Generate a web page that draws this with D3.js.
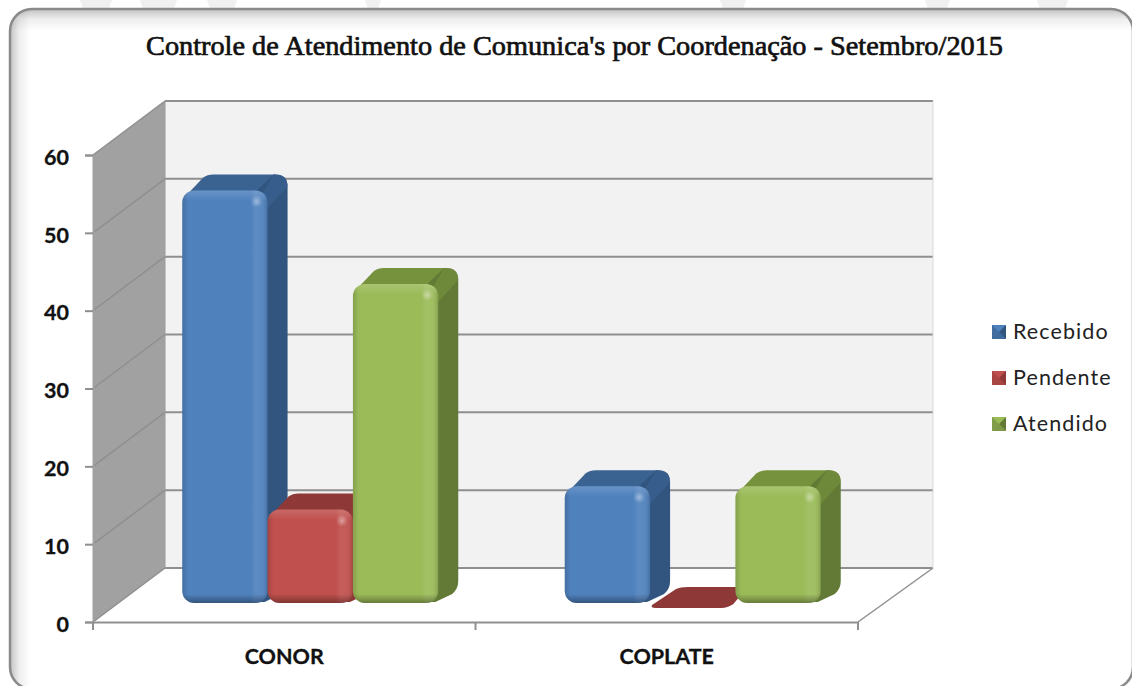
<!DOCTYPE html>
<html>
<head>
<meta charset="utf-8">
<script src="https://cdnjs.cloudflare.com/ajax/libs/d3/7.8.5/d3.min.js"></script>
<style>
  html, body { margin: 0; padding: 0; background: #fff; }
  svg { display: block; }
  .title { font-family: "Liberation Serif", serif; font-size: 28.3px; fill: #111; stroke: #111; stroke-width: .7px; }
  .tick-label { font-family: Lato, sans-serif; font-weight: 700; font-size: 21.5px; fill: #111; stroke: #111; stroke-width: .3px; }
  .legend-label { font-family: Lato, sans-serif; font-size: 21.5px; fill: #222; letter-spacing: 1.1px; }
</style>
</head>
<body>
<div id="chart"></div>
<script>
var WIDTH = 1132,
    HEIGHT = 686;

// data
var titleText = "Controle de Atendimento de Comunica's por Coordenação - Setembro/2015";
var categories = ['CONOR', 'COPLATE'];
var seriesNames = ['Recebido', 'Pendente', 'Atendido'];
var recebido = [53, 15];
var pendente = [12, 0];
var atendido = [41, 15];
var yTicks = [0, 10, 20, 30, 40, 50, 60];

var seriesValues = [recebido, pendente, atendido];
var palette = {
  Recebido: {front: '#4f81bd', side: '#31557f', top: '#3b6392', hi: '#8fc1f5'},
  Pendente: {front: '#c0504d', side: '#8e3937', top: '#8e3937', hi: '#f58f8c'},
  Atendido: {front: '#9bbb59', side: '#627a36', top: '#76923c', hi: '#d4f08e'}
};

// the floor is drawn in oblique projection
var WALL_DX = 72, WALL_DY = -54;    // front plane to back wall
var WALL_EXTRA = 3;                 // back wall runs a little past the floor's right corner
var BAR_DX = 26, BAR_DY = -19;      // front plane to bar front
var SIDE_DX = 20, SIDE_DY = -16;    // bar front to bar back
var BAR_R = 12;

var x0 = d3.scaleBand().domain(categories).range([93, 858]);
var x1 = d3.scaleBand().domain(seriesNames).range([-128, 128]);
var y = d3.scaleLinear().domain([0, 60]).range([622, 155]);

var svg = d3.select('#chart').append('svg')
    .attr('width', WIDTH)
    .attr('height', HEIGHT);
var defs = svg.append('defs');

function linear(id, horizontal, stops) {
  var g = defs.append('linearGradient').attr('id', id)
      .attr('x1', 0).attr('y1', 0)
      .attr('x2', horizontal ? 1 : 0).attr('y2', horizontal ? 0 : 1);
  stops.forEach(s => {
    g.append('stop').attr('offset', s[0]).attr('stop-color', s[1]).attr('stop-opacity', s[2]);
  });
}

linear('shadeLeft', true, [[0, '#000', .24], [.45, '#000', .07], [1, '#000', 0]]);
linear('shadeTop', false, [[0, '#000', .24], [.45, '#000', .07], [1, '#000', 0]]);
// across every bar: dark left rim, light strip before the right rim
linear('bevelX', true, [[0, '#000', .14], [.07, '#000', 0], [.8, '#fff', 0], [.86, '#fff', .08],
                        [.93, '#fff', .06], [1, '#000', .14]]);
defs.append('radialGradient').attr('id', 'spot')
    .selectAll('stop').data([[0, .4], [1, 0]]).enter().append('stop')
    .attr('offset', d => d[0]).attr('stop-color', '#fff').attr('stop-opacity', d => d[1]);
defs.append('clipPath').attr('id', 'frameClip').append('rect')
    .attr('x', 10).attr('y', 9).attr('width', 1123).attr('height', 680).attr('rx', 22);

// faint watermark behind the frame
var watermark = [[80, 112], [140, 177], [207, 237], [365, 381], [720, 746], [925, 950], [1037, 1068]];
svg.append('g').selectAll('path').data(watermark).enter().append('path')
    .attr('d', d => `M${d[0]},0H${d[1]}L${d[1] - 3},9H${d[0] + 3}Z`)
    .attr('fill', '#f0f0f0');

// frame
svg.append('rect').attr('x', 10).attr('y', 9).attr('width', 1123).attr('height', 680)
    .attr('rx', 22).attr('fill', '#fff');
var shade = svg.append('g').attr('clip-path', 'url(#frameClip)');
shade.append('rect').attr('x', 10).attr('y', 9).attr('width', 20).attr('height', 680).attr('fill', 'url(#shadeLeft)');
shade.append('rect').attr('x', 10).attr('y', 9).attr('width', 1123).attr('height', 22).attr('fill', 'url(#shadeTop)');
svg.append('rect').attr('x', 10).attr('y', 9).attr('width', 1123).attr('height', 680)
    .attr('rx', 22).attr('fill', 'none').attr('stroke', '#8a8a8a').attr('stroke-width', 2.5);

svg.append('text').attr('class', 'title')
    .attr('x', 574.5).attr('y', 55)
    .attr('text-anchor', 'middle')
    .text(titleText);

// walls and floor
var xl = x0.range()[0], xr = x0.range()[1];
var backL = xl + WALL_DX,
    backR = xr + WALL_DX + WALL_EXTRA,
    backY = v => y(v) + WALL_DY;
var GRID = '#8f8f8f';

svg.append('path')
    .attr('d', `M${xl},${y(60)}L${backL},${backY(60)}V${backY(0)}L${xl},${y(0)}Z`)
    .attr('fill', '#a1a1a1');
svg.append('rect')
    .attr('x', backL).attr('y', backY(60))
    .attr('width', backR - backL).attr('height', backY(0) - backY(60))
    .attr('fill', '#f2f2f2');

svg.append('g').selectAll('line').data(yTicks).enter().append('line')
    .attr('x1', backL).attr('x2', backR)
    .attr('y1', backY).attr('y2', backY)
    .attr('stroke', GRID).attr('stroke-width', 2);
svg.append('g').selectAll('line').data(yTicks).enter().append('line')
    .attr('x1', xl).attr('x2', backL)
    .attr('y1', y).attr('y2', backY)
    .attr('stroke', GRID).attr('stroke-width', 1.5);
svg.append('path')
    .attr('d', `M${xr},${y(0)}L${backR},${backY(0)}`)
    .attr('stroke', GRID).attr('stroke-width', 1.5).attr('fill', 'none');
svg.append('path')
    .attr('d', `M${backL},${backY(60)}V${backY(0)}`)
    .attr('stroke', '#9a9a9a').attr('fill', 'none');
svg.append('path')
    .attr('d', `M${backR},${backY(60)}V${backY(0)}`)
    .attr('stroke', '#d9d9d9').attr('fill', 'none');

// axes
var yAxis = svg.append('g')
    .attr('transform', `translate(${xl},0)`)
    .call(d3.axisLeft(y).tickValues(yTicks).tickSize(8).tickPadding(16).tickFormat(d3.format('d')));
var xAxis = svg.append('g')
    .attr('transform', `translate(0,${y(0)})`)
    .call(d3.axisBottom(x0).tickSize(0).tickPadding(27));
[yAxis, xAxis].forEach(a => {
  a.attr('font-size', null).attr('font-family', null);
  a.selectAll('text').attr('class', 'tick-label');
  a.selectAll('.tick line, .domain').attr('stroke', GRID).attr('stroke-width', 2);
});
yAxis.selectAll('text').attr('dy', '0.43em');
yAxis.select('.domain').attr('stroke', '#a1a1a1');
svg.append('g').selectAll('line').data(d3.range(categories.length + 1)).enter().append('line')
    .attr('x1', i => xl + i * x0.step()).attr('x2', i => xl + i * x0.step())
    .attr('y1', y(0)).attr('y2', y(0) + 8)
    .attr('stroke', GRID).attr('stroke-width', 2);

// bars: body (top + side) first, then the rounded front with its bevel
var bars = [];
seriesNames.forEach((name, s) => {
  categories.forEach((cat, c) => {
    bars.push({cat: cat, name: name, value: seriesValues[s][c], id: 'bar' + s + c});
  });
});
bars.sort((a, b) => d3.ascending(categories.indexOf(a.cat), categories.indexOf(b.cat)));

var barG = svg.append('g').selectAll('g').data(bars).enter().append('g');

barG.each(function(d) {
  var g = d3.select(this),
      w = x1.bandwidth(),
      left = x0(d.cat) + x0.bandwidth() / 2 + x1(d.name) + BAR_DX,
      right = left + w,
      bottom = y(0) + BAR_DY,
      top = y(d.value) + BAR_DY,
      h = bottom - top,
      col = palette[d.name],
      r = BAR_R;

  if (d.value === 0) {
    // empty bar lies flat on the floor
    g.append('path')
      .attr('d', `M${left + 2},${bottom + 2}L${left + SIDE_DX + 6},${bottom + SIDE_DY + 2}` +
                 `Q${left + SIDE_DX + 10},${bottom + SIDE_DY} ${left + SIDE_DX + 18},${bottom + SIDE_DY}` +
                 `H${right + SIDE_DX - 8}L${right - 2},${bottom + 1}Q${right - 8},${bottom + 5} ${right - 14},${bottom + 5}` +
                 `H${left + 6}Q${left},${bottom + 5} ${left + 2},${bottom + 2}Z`)
      .attr('fill', col.side);
    return;
  }

  // top face
  g.append('path')
    .attr('d', `M${left + 2},${top + 7}L${left + SIDE_DX + 1},${top + SIDE_DY + 3}` +
               `Q${left + SIDE_DX + 5},${top + SIDE_DY} ${left + SIDE_DX + 11},${top + SIDE_DY}` +
               `H${right + SIDE_DX - r}L${right},${top + r}H${left + r}Z`)
    .attr('fill', col.top);

  // side face
  g.append('path')
    .attr('d', `M${right - r},${top + 1}L${right + SIDE_DX - r - 2},${top + SIDE_DY}` +
               `H${right + SIDE_DX - r}Q${right + SIDE_DX},${top + SIDE_DY} ${right + SIDE_DX},${top + SIDE_DY + r}` +
               `V${bottom + SIDE_DY - 6}Q${right + SIDE_DX},${bottom + SIDE_DY + 2} ${right + SIDE_DX - 6},${bottom + SIDE_DY + 7}` +
               `L${right - 3},${bottom - 1}H${right - r}Z`)
    .attr('fill', col.side);
  // soft shoulder between top and side
  g.append('path')
    .attr('d', `M${right - 6},${top + 4}L${right + SIDE_DX - r - 2},${top + SIDE_DY}` +
               `H${right + SIDE_DX - r}Q${right + SIDE_DX},${top + SIDE_DY} ${right + SIDE_DX},${top + SIDE_DY + r}` +
               `L${right},${top + r + 6}Z`)
    .attr('fill', col.top).attr('opacity', .6);

  // front
  var frontRect = sel => sel.attr('x', left).attr('y', top).attr('width', w).attr('height', h).attr('rx', r);
  g.append('rect').call(frontRect).attr('fill', col.front);
  g.append('rect').call(frontRect).attr('fill', 'url(#bevelX)');

  // vertical bevel depends on bar height, so one gradient per bar
  linear(d.id, false, [[0, '#fff', .14], [7 / h, '#fff', .05], [10 / h, '#fff', 0],
                       [(h - 9) / h, '#000', 0], [1, '#000', .34]]);
  g.append('rect').call(frontRect).attr('fill', `url(#${d.id})`);

  g.append('circle')
    .attr('cx', right - 11).attr('cy', top + 11).attr('r', 6)
    .attr('fill', 'url(#spot)');
});

// legend
var legendY = d3.scalePoint().domain(seriesNames).range([332, 424]);
var SW = 14;
var legend = svg.append('g').selectAll('g').data(seriesNames).enter().append('g')
    .attr('transform', d => `translate(992,${legendY(d)})`);
legend.append('rect')
    .attr('x', 0).attr('y', -SW / 2).attr('width', SW).attr('height', SW)
    .attr('fill', d => palette[d].front);
legend.append('path')
    .attr('d', `M0,${-SW / 2}L${SW / 2},0L0,${SW / 2}Z`)
    .attr('fill', d => palette[d].side).attr('opacity', .45);
legend.append('path')
    .attr('d', `M${SW},${-SW / 2}L${SW / 2},0L${SW},${SW / 2}Z`)
    .attr('fill', d => palette[d].side);
legend.append('path')
    .attr('d', `M0,${SW / 2}L${SW / 2},0L${SW},${SW / 2}Z`)
    .attr('fill', d => palette[d].side).attr('opacity', .5);
legend.append('text')
    .attr('class', 'legend-label')
    .attr('x', 21).attr('y', 7)
    .text(d => d);
</script>
</body>
</html>
